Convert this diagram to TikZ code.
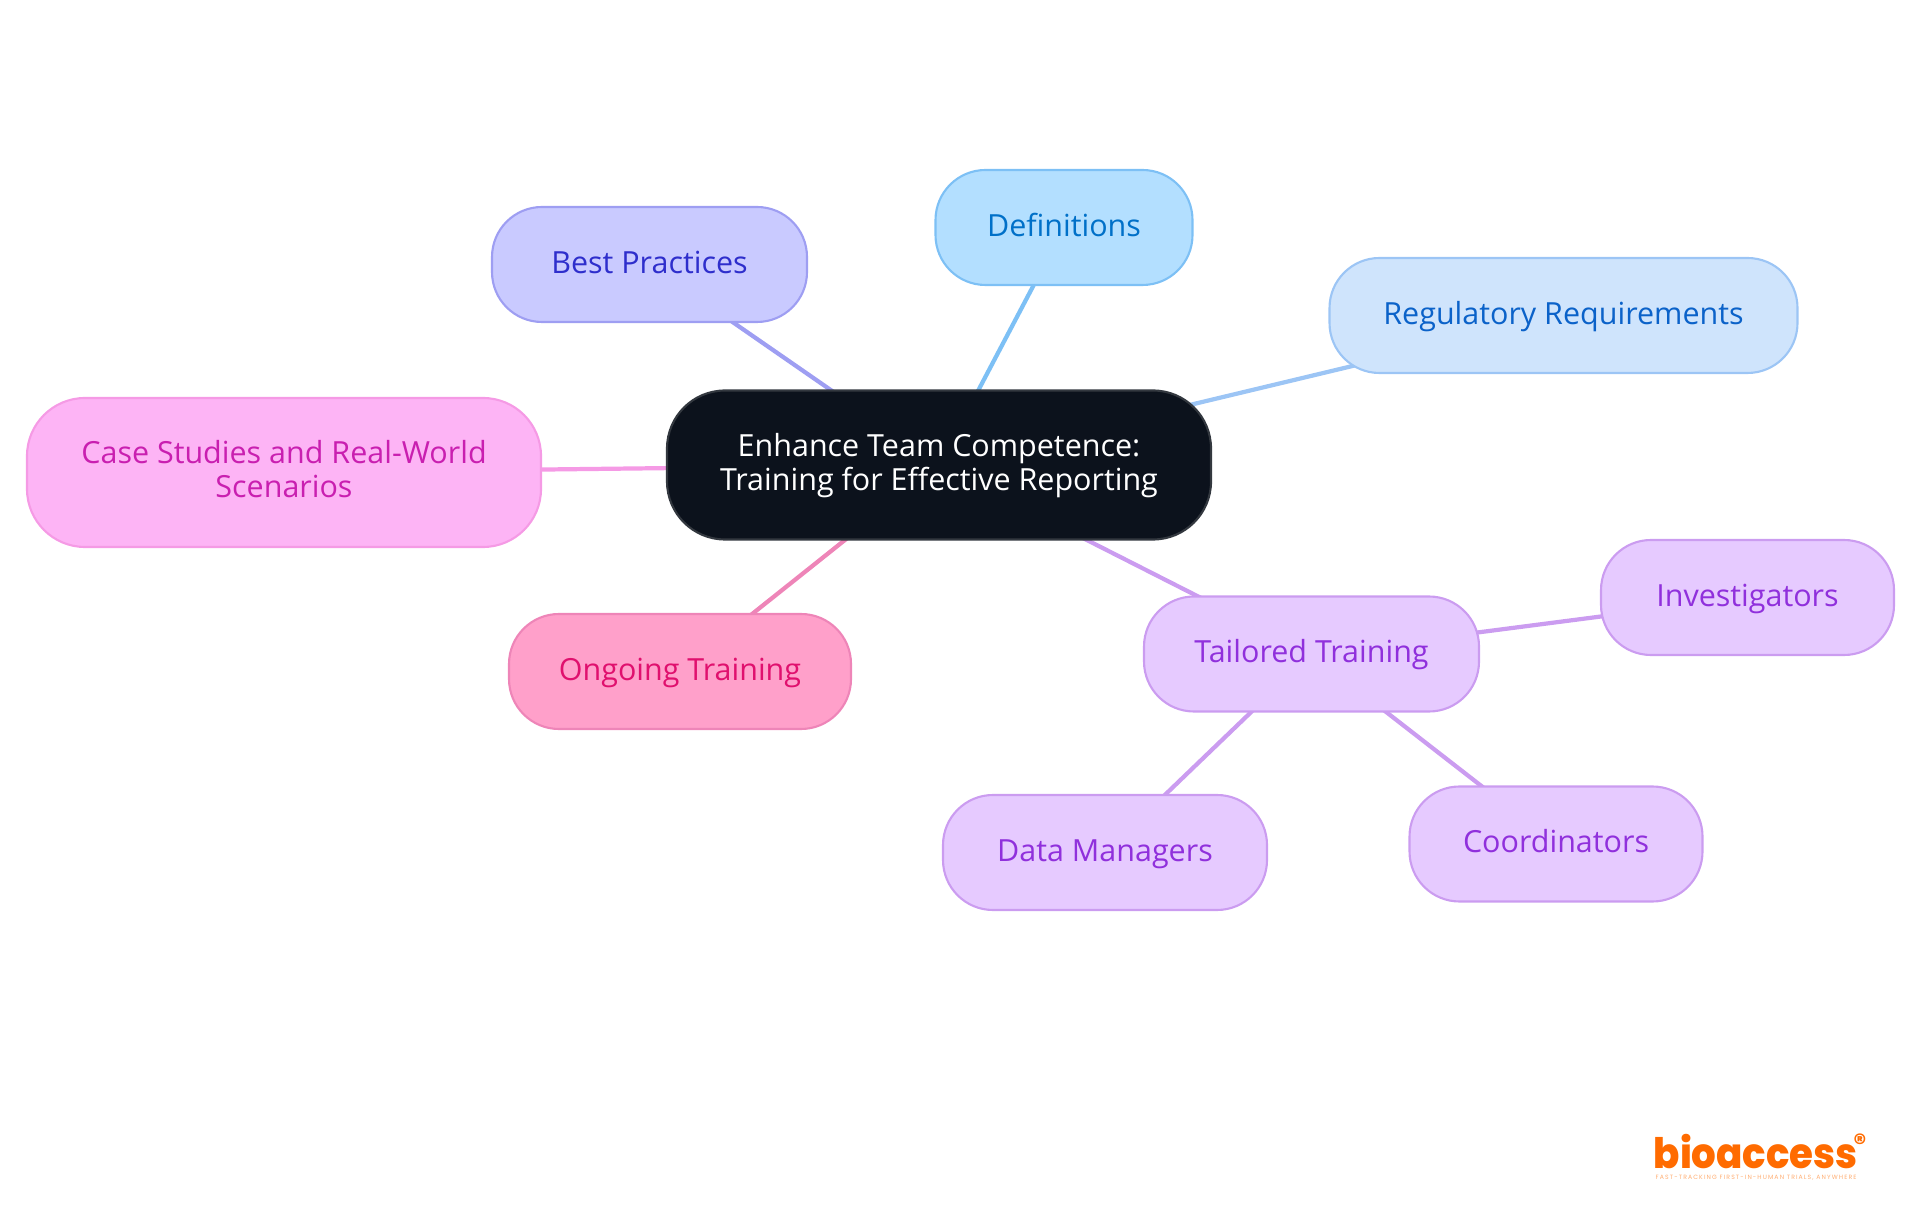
\documentclass[tikz,border=0pt]{standalone}
\usepackage{fontspec}
\setmainfont{Open Sans}
\newfontfamily\logofont{Poppins}[BoldFont={Poppins ExtraBold}]
\newfontfamily\tagfont{Poppins}[LetterSpace=18]
\usetikzlibrary{backgrounds}
\definecolor{ctrfill}{HTML}{0C121C}
\definecolor{ctrline}{HTML}{33383F}
\definecolor{deffill}{HTML}{B3DFFF}
\definecolor{defline}{HTML}{7DC0F5}
\definecolor{deftext}{HTML}{0070C8}
\definecolor{bestfill}{HTML}{C9CAFF}
\definecolor{bestline}{HTML}{9E9EF2}
\definecolor{besttext}{HTML}{2E2ECC}
\definecolor{regfill}{HTML}{CFE4FC}
\definecolor{regline}{HTML}{9CC5F5}
\definecolor{regtext}{HTML}{0B62C9}
\definecolor{casefill}{HTML}{FDB4F5}
\definecolor{caseline}{HTML}{F59AE5}
\definecolor{casetext}{HTML}{C91FB0}
\definecolor{ongfill}{HTML}{FFA0CA}
\definecolor{ongline}{HTML}{EE85B8}
\definecolor{ongtext}{HTML}{E0106E}
\definecolor{tailfill}{HTML}{E6CAFF}
\definecolor{tailline}{HTML}{CB9CF0}
\definecolor{tailtext}{HTML}{9030DC}
\definecolor{logoorange}{HTML}{FF6B00}
\tikzset{
  pill/.style={rectangle,rounded corners=0.5cm,line width=0.6pt,inner sep=0pt,minimum height=1.15cm,
    font=\fontsize{8.67}{9.67}\selectfont,text height=0.276cm,text depth=0.10cm},
  pilltwo/.style={pill,rounded corners=0.58cm,minimum height=1.49cm,align=center,text height=0.605cm,text depth=0.10cm},
  edge/.style={line width=1.2pt}
}
\begin{document}
\begin{tikzpicture}[line cap=round,line join=round,x=1.0cm,y=1.0cm]
\useasboundingbox (0,0) rectangle (19.2,12.15);
\node (ctr) [pilltwo,draw=ctrline,fill=ctrfill,text=white,minimum width=5.44cm] at (9.39,7.50) {Enhance Team Competence:\\Training for Effective Reporting};
\node (def) [pill,draw=defline,fill=deffill,text=deftext,minimum width=2.57cm] at (10.64,9.875) {Definitions};
\node (best) [pill,draw=bestline,fill=bestfill,text=besttext,minimum width=3.15cm] at (6.495,9.505) {Best Practices};
\node (reg) [pill,draw=regline,fill=regfill,text=regtext,minimum width=4.68cm] at (15.635,8.995) {Regulatory Requirements};
\node (case) [pilltwo,draw=caseline,fill=casefill,text=casetext,minimum width=5.14cm] at (2.84,7.425) {Case Studies and Real-World\\Scenarios};
\node (ong) [pill,draw=ongline,fill=ongfill,text=ongtext,minimum width=3.42cm] at (6.80,5.435) {Ongoing Training};
\node (tail) [pill,draw=tailline,fill=tailfill,text=tailtext,minimum width=3.35cm] at (13.115,5.61) {Tailored Training};
\node (inv) [pill,draw=tailline,fill=tailfill,text=tailtext,minimum width=2.93cm] at (17.475,6.175) {Investigators};
\node (coo) [pill,draw=tailline,fill=tailfill,text=tailtext,minimum width=2.93cm] at (15.56,3.71) {Coordinators};
\node (dat) [pill,draw=tailline,fill=tailfill,text=tailtext,minimum width=3.24cm] at (11.05,3.625) {Data Managers};
\begin{scope}[on background layer]
\draw [edge,color=defline] (ctr.center)-- (def.center);
\draw [edge,color=bestline] (ctr.center)-- (best.center);
\draw [edge,color=regline] (ctr.center)-- (reg.center);
\draw [edge,color=caseline] (ctr.center)-- (case.center);
\draw [edge,color=ongline] (ctr.center)-- (ong.center);
\draw [edge,color=tailline] (ctr.center)-- (tail.center);
\draw [edge,color=tailline] (tail.center)-- (inv.center);
\draw [edge,color=tailline] (tail.center)-- (coo.center);
\draw [edge,color=tailline] (tail.center)-- (dat.center);
\end{scope}
\node (logo) [inner sep=0pt,anchor=base west,text=logoorange,font=\logofont\bfseries\fontsize{11.6}{12}\selectfont] at (16.53,0.47) {\scalebox{.95}[1.03]{bioaccess}};
\node (reg mark) [inner sep=0pt,text=logoorange,font=\logofont\bfseries\fontsize{7}{8}\selectfont] at (18.60,0.72) {\textregistered};
\node (tagline) [inner sep=0pt,anchor=base west,text=logoorange!55,font=\tagfont\fontsize{1.75}{2}\selectfont] at (16.55,0.355) {FAST-TRACKING FIRST-IN-HUMAN TRIALS, ANYWHERE};
\end{tikzpicture}
\end{document}
